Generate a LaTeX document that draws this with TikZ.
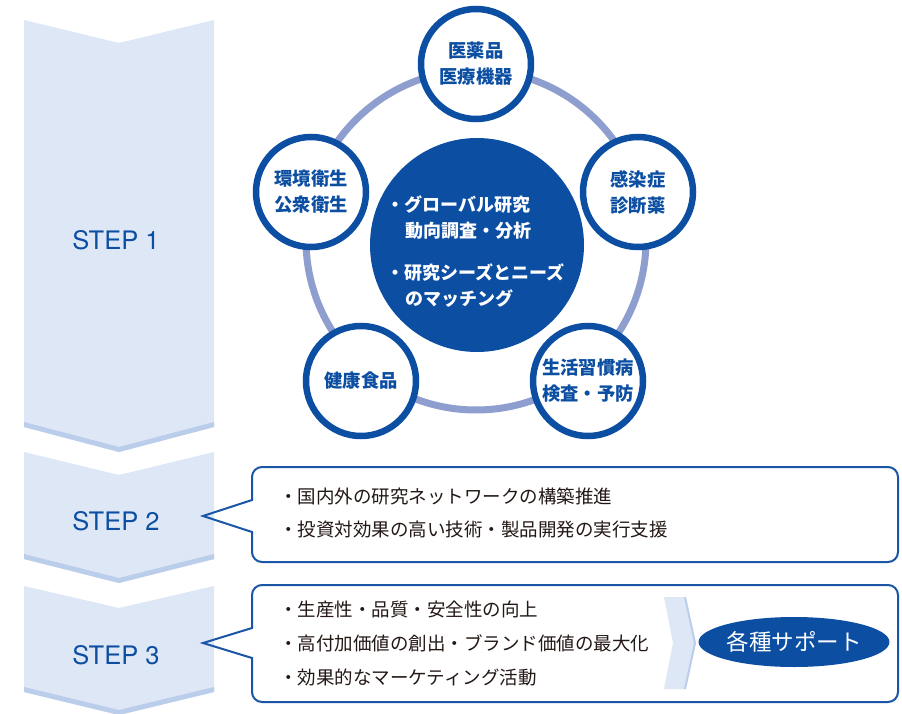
\documentclass[tikz,border=0pt]{standalone}
\usepackage{fontspec}
\setmainfont{TeX Gyre Heros}
\newfontfamily\jp{Noto Sans CJK JP}
\usetikzlibrary{shapes.geometric}
\definecolor{blueD}{HTML}{0B4EA2}
\definecolor{blueL}{HTML}{1A56A5}
\definecolor{ringc}{HTML}{8E9ECF}
\definecolor{stepfill}{HTML}{DEE7F5}
\definecolor{stepstripe}{HTML}{BACDEA}
\definecolor{txt}{HTML}{231815}
\begin{document}
\begin{tikzpicture}[x=1pt,y=-1pt,
  stepshape/.style={fill=stepfill},
  stripe/.style={fill=stepstripe},
  steplabel/.style={font=\fontsize{25.5}{25.5}\selectfont, text=blueD, inner sep=0},
  ringline/.style={draw=ringc, line width=7pt},
  topic/.style={circle, fill=white, draw=blueD, line width=6.5pt, minimum size=110pt, inner sep=0,
    font=\jp\bfseries\fontsize{18.3}{26}\selectfont, text=blueD, align=center},
  callout/.style={draw=blueL, line width=2pt},
  item/.style={font=\jp\fontsize{18.5}{18.5}\selectfont, text=txt, anchor=west, inner sep=0},
  ctext/.style={font=\jp\bfseries\fontsize{18}{18}\selectfont, text=white, anchor=west, inner sep=0}
]
\useasboundingbox (0,0) rectangle (902,714);
\fill[white] (0,0) rectangle (902,714);

% step chevrons
\fill[stepshape] (24,20) -- (119,43) -- (214,20) -- (214,427) -- (119,452) -- (24,427) -- cycle;
\fill[stripe] (24,422) -- (119,447) -- (214,422) -- (214,427) -- (119,452) -- (24,427) -- cycle;
\fill[stepshape] (24,452) -- (119,475) -- (214,452) -- (214,559) -- (119,583) -- (24,559) -- cycle;
\fill[stripe] (24,554) -- (119,578) -- (214,554) -- (214,559) -- (119,583) -- (24,559) -- cycle;
\fill[stepshape] (24,586) -- (119,608) -- (214,586) -- (214,692) -- (119,715) -- (24,692) -- cycle;
\fill[stripe] (24,687) -- (119,710) -- (214,687) -- (214,692) -- (119,715) -- (24,692) -- cycle;
\node[steplabel] (s1) at (116,240) {STEP 1};
\node[steplabel] (s2) at (116,521) {STEP 2};
\node[steplabel] (s3) at (116,655) {STEP 3};

% ring and circles
\draw[ringline] (476,240) circle[radius=170pt];
\node[circle, fill=blueD, minimum size=214pt, inner sep=0] (core) at (477,245) {};
\node[ctext] (c1) at (386,205) {・グローバル研究};
\node[ctext] (c2) at (405,231) {動向調査・分析};
\node[ctext] (c3) at (386,273) {・研究シーズとニーズ};
\node[ctext] (c4) at (405,299) {のマッチング};

\node[topic] (med) at (476,64) {医薬品\\医療機器};
\node[topic] (inf) at (638,192) {感染症\\診断薬};
\node[topic] (life) at (588,381) {生活習慣病\\検査・予防};
\node[topic] (food) at (361,381) {健康食品};
\node[topic] (env) at (311,192) {環境衛生\\公衆衛生};

% step 2 callout
\draw[callout, fill=white, rounded corners=10pt] (252,467) rectangle (898,562);
\fill[white] (250,501) rectangle (254,531);
\draw[callout, line join=miter] (252,500) -- (203,516) -- (252,532);
\node[item] (t21) at (279,496) {・国内外の研究ネットワークの構築推進};
\node[item] (t22) at (279,530) {・投資対効果の高い技術・製品開発の実行支援};

% step 3 callout
\draw[callout, fill=white, rounded corners=10pt] (252,585) rectangle (898,702);
\fill[white] (250,629) rectangle (254,657);
\draw[callout, line join=miter] (252,628) -- (203,643) -- (252,658);
\node[item] (t31) at (279,609) {・生産性・品質・安全性の向上};
\node[item] (t32) at (279,643) {・高付加価値の創出・ブランド価値の最大化};
\node[item] (t33) at (279,677) {・効果的なマーケティング活動};

\fill[stepfill] (664,597) -- (685,597) -- (695,643) -- (685,689) -- (664,689) -- (673,643) -- cycle;
\draw[stepstripe, line width=2pt] (685,597) -- (695,643) -- (685,689);

\node[ellipse, fill=blueD, minimum width=176pt, minimum height=50pt, inner sep=0, text=white,
  font=\jp\fontsize{22.5}{22.5}\selectfont] (support) at (794,642) {各種サポート};
\end{tikzpicture}
\end{document}
